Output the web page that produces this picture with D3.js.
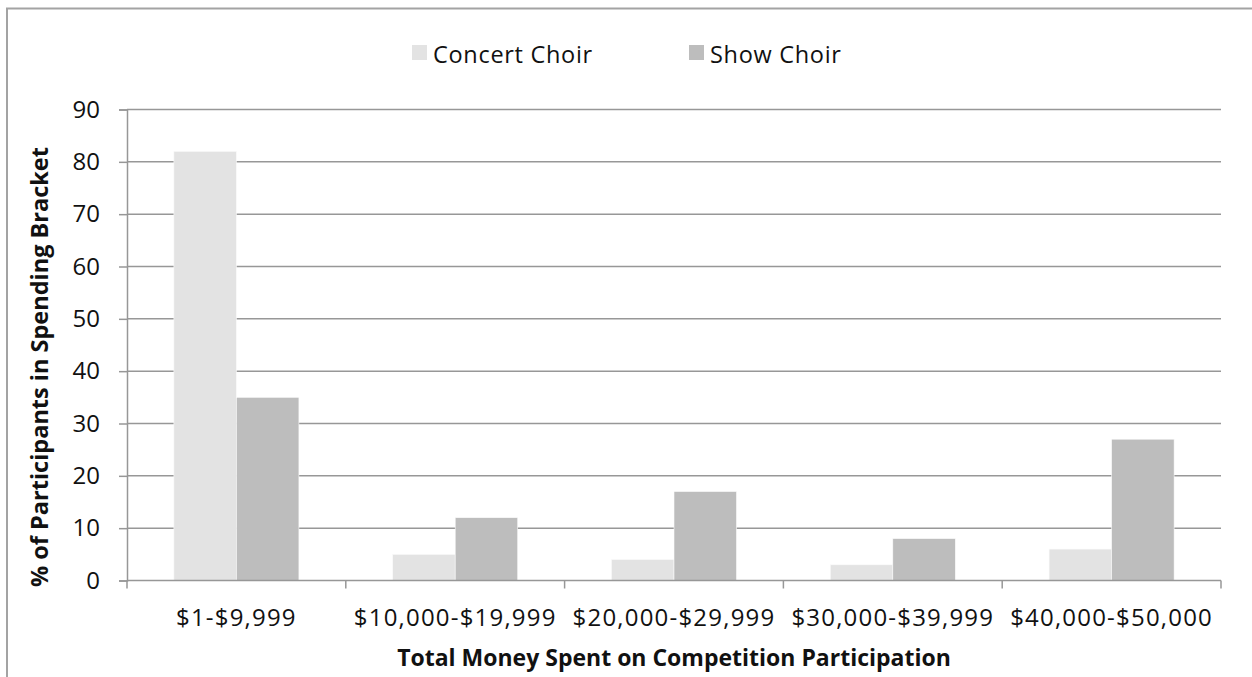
<!DOCTYPE html>
<html><head><meta charset="utf-8">
<script src="https://cdn.jsdelivr.net/npm/d3@7"></script>
<style>
html,body{margin:0;padding:0;background:#fff;}
svg{display:block;}
text{font-family:"Open Sans","Lato",sans-serif;fill:#111;}
</style></head>
<body>
<svg id="c" width="1252" height="677"></svg>
<script>
const categories = ["$1-$9,999","$10,000-$19,999","$20,000-$29,999","$30,000-$39,999","$40,000-$50,000"];
const seriesNames = ["Concert Choir","Show Choir"];
const concertChoir = [82,5,4,3,6];
const showChoir = [35,12,17,8,27];
const yTicks = [0,10,20,30,40,50,60,70,80,90];
const colors = ["#e3e3e3","#bdbdbd"];

(function(){
const svg = d3.select("#c");
const W = 1252, H = 677;
const pL = 127, pR = 1221, pT = 109.5, pB = 580.5;
const FONT = "'Open Sans', Lato, sans-serif";

svg.append("path").attr("d", `M7,${H+2}V8.5H${W+2}`).attr("fill","none").attr("stroke","#a3a3a3").attr("stroke-width",2);

const x0 = d3.scaleBand().domain(categories).range([pL,pR]).padding(0);
const x1 = d3.scaleBand().domain(seriesNames).range([0,x0.bandwidth()]).paddingInner(0).paddingOuter(0.75);
const y = d3.scaleLinear().domain([0,90]).range([pB,pT]);

svg.append("g").selectAll("line").data(yTicks.filter(d=>d>0)).join("line")
  .attr("x1",pL).attr("x2",pR).attr("y1",d=>y(d)).attr("y2",d=>y(d))
  .attr("stroke","#979797").attr("stroke-width",1.5);

const data = categories.map((c,i)=>({cat:c, vals:[concertChoir[i], showChoir[i]]}));
const g = svg.append("g").selectAll("g").data(data).join("g")
  .attr("transform",d=>`translate(${x0(d.cat)},0)`);
g.selectAll("rect").data(d=>d.vals.map((v,j)=>({s:seriesNames[j],v,j}))).join("rect")
  .attr("x",d=>x1(d.s)).attr("width",x1.bandwidth())
  .attr("y",d=>y(d.v)).attr("height",d=>y(0)-y(d.v))
  .attr("fill",d=>colors[d.j]).attr("stroke","#fafafa").attr("stroke-width",0.6);

const yAxis = d3.axisLeft(y).tickValues(yTicks).tickSize(8).tickPadding(19);
const ya = svg.append("g").attr("transform",`translate(${pL},0)`).call(yAxis);
ya.select(".domain").attr("stroke","#979797").attr("stroke-width",1.5);
ya.selectAll(".tick line").attr("stroke","#979797").attr("stroke-width",1.5);
ya.selectAll(".tick text").style("font-size","24px").style("font-family",FONT).attr("fill","#111");

const xa = svg.append("g").attr("transform",`translate(0,${pB})`);
xa.append("line").attr("x1",pL).attr("x2",pR).attr("y1",0).attr("y2",0).attr("stroke","#979797").attr("stroke-width",1.5);
const bounds = categories.map(c=>x0(c)).concat([x0(categories[categories.length-1])+x0.bandwidth()]);
xa.selectAll("line.t").data(bounds).join("line").attr("class","t")
  .attr("x1",d=>d).attr("x2",d=>d).attr("y1",0).attr("y2",8).attr("stroke","#979797").attr("stroke-width",1.5);
xa.selectAll("text").data(categories).join("text")
  .attr("x",d=>x0(d)+x0.bandwidth()/2).attr("y",45).attr("text-anchor","middle")
  .style("font-size","24px").style("letter-spacing","1.2px").text(d=>d);

svg.append("text").attr("x",674).attr("y",666).attr("text-anchor","middle")
  .style("font-size","23px").style("font-weight","bold").text("Total Money Spent on Competition Participation");
svg.append("text").attr("transform","translate(48,367) rotate(-90)").attr("text-anchor","middle")
  .style("font-size","23.5px").style("font-weight","bold").text("% of Participants in Spending Bracket");

const legX = [412, 689];
seriesNames.forEach((s,i)=>{
  svg.append("rect").attr("x",legX[i]).attr("y",45).attr("width",15).attr("height",15).attr("fill",colors[i]);
  svg.append("text").attr("x",legX[i]+21).attr("y",63).style("font-size","23.5px").style("letter-spacing","0.7px").text(s);
});
})();
</script>
</body></html>
